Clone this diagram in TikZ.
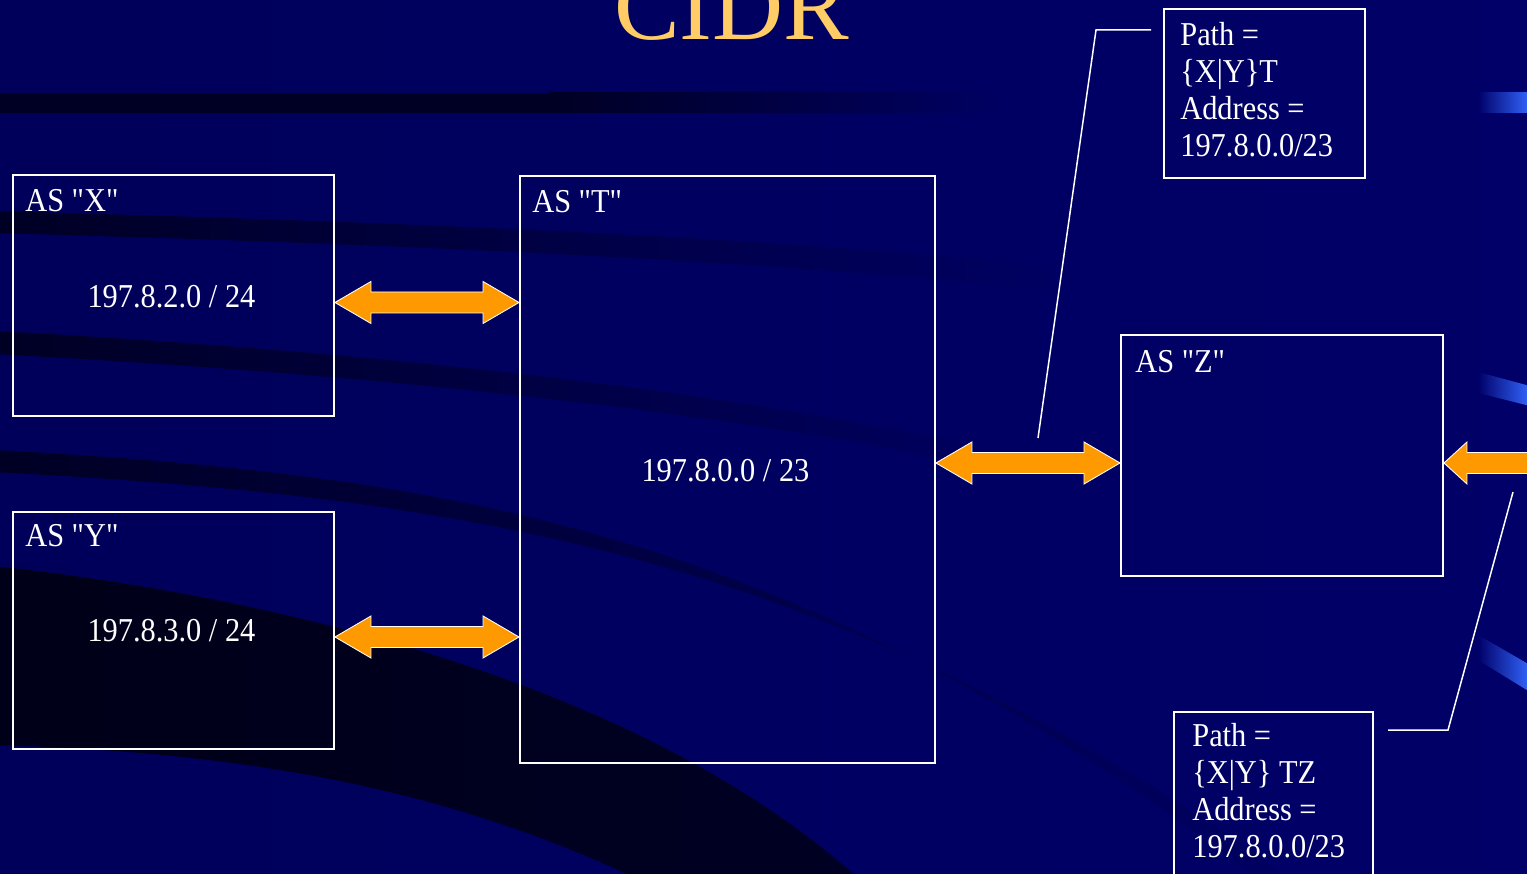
\documentclass[tikz,border=0pt]{standalone}
\usepackage{fontspec}
\setmainfont{Liberation Serif}
\newfontfamily\boxfont[FakeStretch=0.91]{Liberation Serif}
\usetikzlibrary{calc}

\definecolor{navyL}{HTML}{00005A}
\definecolor{navyM}{HTML}{000062}
\definecolor{navyR}{HTML}{000068}
\definecolor{stripe}{HTML}{000024}
\definecolor{deep}{HTML}{000018}
\definecolor{glow}{HTML}{3366FF}
\definecolor{gold}{HTML}{FFCC66}
\definecolor{arroworange}{HTML}{FF9900}

% double-headed link between two points on the same level
\newcommand\twoway[2]{%
  \filldraw[arrowbody] (#1) -- ($(#1)+(36,-21)$) -- ($(#1)+(36,-10.5)$)
    -- ($(#2)+(-36,-10.5)$) -- ($(#2)+(-36,-21)$) -- (#2)
    -- ($(#2)+(-36,21)$) -- ($(#2)+(-36,10.5)$)
    -- ($(#1)+(36,10.5)$) -- ($(#1)+(36,21)$) -- cycle;}

\begin{document}
\begin{tikzpicture}[x=0.02cm,y=-0.02cm,
  asbox/.style={draw=white, line width=1.15pt, inner sep=0pt, anchor=north west},
  boxtext/.style={text=white, inner sep=0pt, font=\boxfont\fontsize{19}{21}\selectfont},
  arrowbody/.style={fill=arroworange, draw=white, line width=0.5pt, line join=miter},
  callout/.style={draw=white, line width=0.85pt}]

\useasboundingbox (0,0) rectangle (1527,874);
\clip (0,0) rectangle (1527,874);

% backdrop
\shade[left color=navyL, right color=navyR] (-5,-5) rectangle (1535,880);

% dark sweeping bands
\fill[stripe] (-5,93) rectangle (550,113);
\shade[left color=stripe, right color=navyM] (549,93) rectangle (1000,113);
\shade[left color=stripe, right color=navyM]
  (-5,211) .. controls (400,222) and (800,238) .. (1060,268)
  -- (1060,292) .. controls (800,262) and (400,244) .. (-5,233) -- cycle;
\shade[left color=stripe, right color=navyM]
  (-5,331) .. controls (350,350) and (750,390) .. (1050,462)
  -- (1050,482) .. controls (750,410) and (350,373) .. (-5,354) -- cycle;
\shade[left color=stripe, right color=navyM]
  (-5,450) .. controls (450,475) and (800,530) .. (1260,880)
  -- (1292,880) .. controls (830,550) and (460,497) .. (-5,472) -- cycle;
\shade[left color=deep, right color=stripe]
  (-5,566) .. controls (300,600) and (650,690) .. (860,880)
  -- (640,880) .. controls (450,790) and (250,752) .. (-5,745) -- cycle;

% blue glints at the right edge
\shade[left color=navyR, middle color=glow, right color=glow] (1478,93) rectangle (1530,113);
\shade[left color=navyR, middle color=glow, right color=glow]
  (1478,372) -- (1530,386) -- (1530,406) -- (1478,393) -- cycle;
\shade[left color=navyR, middle color=glow, right color=glow]
  (1478,635) -- (1530,665) -- (1530,692) -- (1478,660) -- cycle;

% title
\node[anchor=base west, inner sep=0pt, text=gold, font=\fontsize{56}{60}\selectfont] (title) at (614,40) {CIDR};

% autonomous systems
\node[asbox, minimum width=6.42cm, minimum height=4.82cm] (x) at (12,174) {};
\node[asbox, minimum width=6.42cm, minimum height=4.74cm] (y) at (12,511) {};
\node[asbox, minimum width=8.30cm, minimum height=11.74cm] (t) at (519,175) {};
\node[asbox, minimum width=6.44cm, minimum height=4.82cm] (z) at (1120,334) {};

\node[boxtext, anchor=base west] (xl) at ($(x.north west)+(13,38)$) {AS "X"};
\node[boxtext, anchor=base west] (yl) at ($(y.north west)+(13,35)$) {AS "Y"};
\node[boxtext, anchor=base west] (tl) at ($(t.north west)+(13,38)$) {AS "T"};
\node[boxtext, anchor=base west] (zl) at ($(z.north west)+(15,39)$) {AS "Z"};

\node[boxtext, anchor=base] (xn) at ($(x.center)+(-2,12.5)$) {197.8.2.0 / 24};
\node[boxtext, anchor=base] (yn) at ($(y.center)+(-2,11.5)$) {197.8.3.0 / 24};
\node[boxtext, anchor=base] (tn) at ($(t.center)+(-2,12.5)$) {197.8.0.0 / 23};

% route announcements
\node[asbox, minimum width=4.02cm, minimum height=3.38cm] (p1) at (1163,8) {};
\node[asbox, minimum width=3.98cm, minimum height=4.0cm] (p2) at (1173,711) {};

\foreach \txt [count=\i] in {Path =, \{X|Y\}T, Address =, 197.8.0.0/23}
  \node[boxtext, anchor=base west] (p1l\i) at ($(p1.north west)+(17,38+37*\i-37)$) {\txt};
\foreach \txt [count=\i] in {Path =, \{X|Y\} TZ, Address =, 197.8.0.0/23}
  \node[boxtext, anchor=base west] (p2l\i) at ($(p2.north west)+(19,35+37*\i-37)$) {\txt};

% links
\coordinate (xa) at ($(x.east)+(0,7)$);
\coordinate (ta) at (t.west |- xa);
\coordinate (ya) at ($(y.east)+(0,6.5)$);
\coordinate (tb) at (t.west |- ya);
\coordinate (zc) at ($(z.west)+(0,7.5)$);
\coordinate (tc) at (t.east |- zc);
\coordinate (zd) at ($(z.east)+(0,7.5)$);
\coordinate (feed) at ($(zd)+(110,0)$);

\twoway{xa}{ta}
\twoway{ya}{tb}
\twoway{tc}{zc}
\filldraw[arrowbody] (zd) -- ($(zd)+(23,-21)$) -- ($(zd)+(23,-10.5)$)
  -- ($(feed)+(0,-10.5)$) -- ($(feed)+(0,10.5)$)
  -- ($(zd)+(23,10.5)$) -- ($(zd)+(23,21)$) -- cycle;

% callout leaders
\coordinate (k1) at (1096,30);
\coordinate (e1) at (1038,438);
\draw[callout] ($(p1.north west)+(-12,22)$) -- (k1) -- (e1);
\coordinate (k2) at (1448,730);
\coordinate (e2) at (1513,492);
\draw[callout] ($(p2.north east)+(14,19)$) -- (k2) -- (e2);

\end{tikzpicture}
\end{document}
